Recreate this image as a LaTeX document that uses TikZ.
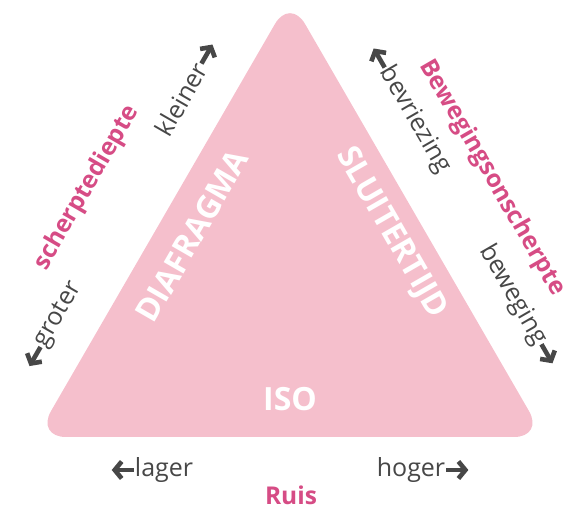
\documentclass[tikz,border=0pt]{standalone}
\usepackage{fontspec}
\setmainfont{Open Sans}
\usetikzlibrary{positioning,arrows.meta}

\definecolor{vlak}{HTML}{F5BFCC}
\definecolor{roze}{HTML}{D64C85}
\definecolor{grijs}{HTML}{474747}

\begin{document}
\begin{tikzpicture}[
  x=1bp, y=1bp,
  hoek/.style={font=\fontsize{32bp}{36bp}\selectfont\bfseries, text=white, inner sep=0pt},
  effect/.style={font=\fontsize{24.5bp}{28bp}\selectfont\bfseries, text=roze, inner sep=0pt},
  richting/.style={font=\fontsize{25bp}{29bp}\selectfont, text=grijs, inner sep=1bp},
  pijl/.style={grijs, line width=4.6bp, -{Straight Barb[length=7bp, width=17bp]}}
]
\useasboundingbox (0,0) rectangle (586,514);

% driehoek
\coordinate (top) at (290,516);
\coordinate (lo)  at (36,77);
\coordinate (ro)  at (544,77);
\fill[vlak, rounded corners=30bp] (top) -- (ro) -- (lo) -- cycle;

\node[hoek, rotate=60]  (dia) at (192,278) {DIAFRAGMA};
\node[hoek, rotate=-60] (slt) at (391,281) {SLUITERTIJD};
\node[hoek]             (iso) at (290,115) {ISO};

% linkerzijde
\node[effect, rotate=60]   (sd)  at (87,326)  {scherptediepte};
\node[richting, rotate=60] (kln) at (181,415) {kleiner};
\node[richting, rotate=60] (grt) at (59,199)  {groter};

% rechterzijde
\node[effect, rotate=-60]   (bo)  at (492,336) {Bewegingsonscherpte};
\node[richting, rotate=-60] (bvr) at (415,394) {bevriezing};
\node[richting, rotate=-60] (bwg) at (513,219) {beweging};

% onderkant
\node[richting] (lgr) at (164,44) {lager};
\node[richting] (hgr) at (411,44) {hoger};
\node[effect]   (ruis) at (291,19) {Ruis};

% pijlpunten langs de tekst
\path (kln.east) ++(60:22)   coordinate (p-kln);
\path (grt.west) ++(240:22)  coordinate (p-grt);
\path (bvr.west) ++(120:22)  coordinate (p-bvr);
\path (bwg.east) ++(-60:22)  coordinate (p-bwg);
\path (lgr.west) ++(180:22)  coordinate (p-lgr);
\path (hgr.east) ++(0:22)    coordinate (p-hgr);

\draw[pijl] (kln.east) -- (p-kln);
\draw[pijl] (grt.west) -- (p-grt);
\draw[pijl] (bvr.west) -- (p-bvr);
\draw[pijl] (bwg.east) -- (p-bwg);
\draw[pijl] (lgr.west) -- (p-lgr);
\draw[pijl] (hgr.east) -- (p-hgr);
\end{tikzpicture}
\end{document}
